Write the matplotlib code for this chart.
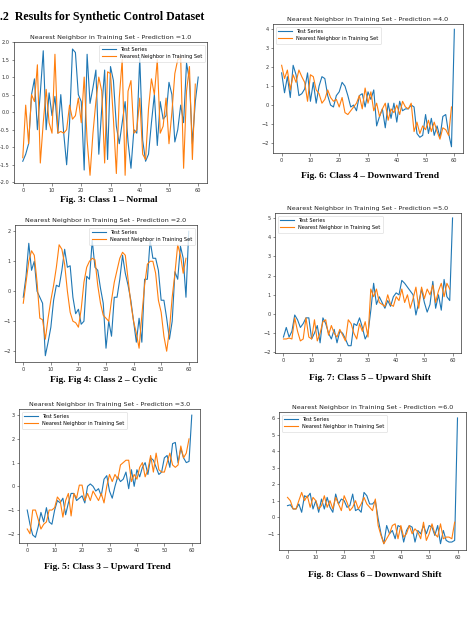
import matplotlib
matplotlib.use("Agg")
import matplotlib.pyplot as plt
import numpy as np

# test series (last value = class label) and nearest neighbour, one pair per class
test_c1 = [-1.4, -1.2, -0.9, 0.5, 0.95, -0.5, 0.55, 1.75, -0.5, 0.55, -0.1, 0.45, -0.6, 0.5, -0.6,
           -1.5, -0.3, 1.8, 1.7, 0.5, 0.3, -1.65, 1.65, 0.25, 0.7, 1.2, -1.2, 0.1, 1.2, -1.35,
           1.3, 0.9, -0.4, -0.9, -0.3, 0.3, -0.85, -1.6, -0.5, -0.6, 1.55, -0.8, -1.4, -1.2, -0.3,
           0.5, -0.95, 0.3, -0.2, -0.1, 0.85, 0.5, -0.85, -0.5, 0.2, -0.3, 1.4, 0.9, -0.9, 0.3, 1.0]
nn_c1 = [-1.3, 0.2, -0.9, 0.5, 0.3, 1.35, -1.45, -0.3, 0.65, -0.3, -0.6, 1.65, -0.6, -0.55, -0.6,
         -0.5, 0.2, -0.2, -0.1, 0.4, -0.3, 1.0, -0.8, -1.8, -0.6, 0.3, 1.0, 0.6, -1.45, 1.15,
         1.1, -0.2, -1.75, 0.4, 1.5, -1.8, 0.6, 0.9, -0.6, -0.5, 0.4, -1.2, -1.35, 0.1, 0.95,
         0.5, 1.5, -0.6, -0.4, 0.4, -0.9, 0.0, 1.1, 1.5, 1.55, -1.6, 0.6, 1.3, -1.35, 0.8]

test_c2 = [-0.2, 0.5, 1.6, 0.7, 1.0, 0.0, -0.2, -0.4, -2.15, -1.7, -1.2, -0.3, 0.2, 0.15, 0.7,
           1.4, 0.8, 0.85, -0.2, -0.75, -0.6, -1.1, -1.0, 0.5, 0.4, 1.7, 0.8, 0.7, 0.1, -0.4,
           -1.9, -1.0, -1.5, -0.2, -0.2, 0.4, 1.2, 0.6, 0.2, -0.3, -1.0, -1.7, -0.9, -1.7, 0.4,
           0.4, 1.7, 1.1, 1.1, 0.7, -0.3, -0.3, -0.9, -1.6, -1.0, 0.65, 0.4, 1.5, 1.1, -0.2, 2.0]
nn_c2 = [-0.4, 0.3, 1.0, 1.35, 1.2, 0.3, -0.9, -0.95, -1.6, -0.9, -0.3, 0.2, 0.8, 1.55, 1.4,
         0.9, 0.0, -0.7, -1.0, -1.05, -1.2, -0.6, 0.3, 0.8, 1.0, 1.1, 1.05, 0.2, -0.4, -0.8,
         -0.9, -1.0, -0.3, 0.3, 0.7, 1.1, 1.3, 1.2, 0.4, -0.4, -1.0, -1.4, -1.9, -0.8, 0.2,
         0.9, 1.0, 1.0, 0.6, -0.3, -0.7, -1.5, -2.0, -1.3, -0.2, 0.6, 1.55, 1.2, 0.6, 1.1]

test_c3 = [-1.0, -1.6, -2.05, -2.15, -1.7, -1.1, -1.5, -0.9, -1.5, -1.6, -1.0, -0.6, -0.7, -0.5, -1.2,
           -0.7, -0.3, -0.3, -0.6, -0.5, -0.4, -0.7, 0.0, 0.1, 0.0, -0.2, -0.1, -0.4, 0.3, 0.45,
           -0.2, -0.5, 0.0, 0.4, 0.2, 0.3, 0.6, -0.1, 0.7, 0.0, 0.7, 0.4, 0.8, 1.0, 0.5,
           1.2, 1.1, 0.8, 0.5, 0.6, 1.2, 1.3, 0.8, 1.8, 1.85, 1.0, 1.6, 1.2, 1.0, 1.05, 3.0]
nn_c3 = [-1.8, -2.0, -1.0, -1.0, -1.4, -1.8, -1.6, -1.5, -1.0, -1.0, -0.9, -0.45, -0.6, -1.3, -0.6,
         -0.3, -1.25, -0.3, -0.5, 0.05, 0.05, -0.6, -0.3, -0.6, -0.2, -0.4, -0.6, -0.3, -0.7, 0.0,
         0.5, 0.2, 0.5, 0.3, 0.9, 1.0, 1.1, 1.1, 0.2, 0.5, 0.3, 0.8, 1.0, 0.4, 0.7,
         1.3, 0.6, 1.4, 0.7, 0.6, 0.6, 1.0, 1.4, 0.9, 0.8, 0.9, 1.7, 1.2, 1.4, 2.0]

test_c4 = [1.7, 0.65, 1.5, 0.4, 2.1, 1.6, 0.5, 0.6, 0.85, 1.7, 0.2, 1.2, 0.1, 1.0, 1.5,
           1.4, 0.5, 0.0, -0.1, 0.5, 0.7, 1.2, 1.0, 0.5, -0.1, 0.0, -0.3, 0.5, 0.6, -0.1,
           0.7, 0.3, 0.8, -1.1, -0.6, -0.2, -1.2, 0.1, -0.7, 0.1, -0.9, 0.2, -0.3, -0.2, -0.2,
           0.0, -0.1, -1.5, -1.7, -1.6, -0.5, -1.5, -0.7, -1.6, -1.1, -1.7, -0.6, -0.5, -1.5, -2.2, 4.0]
nn_c4 = [2.1, 1.4, 1.85, 0.8, 1.6, 1.2, 1.85, 1.5, 1.2, 0.2, 1.6, 1.5, 0.8, 0.6, 0.1,
         0.3, 0.8, 0.4, 0.2, 0.3, -0.1, 0.4, -0.4, -0.5, -0.3, -0.1, 0.1, 0.5, -0.2, 0.9,
         0.1, 0.7, -0.3, 0.1, -0.6, -0.2, 0.1, -0.8, -0.2, -0.4, 0.0, -0.5, 0.2, -0.1, -0.2,
         0.1, -1.4, -0.9, -1.5, -1.1, -1.3, -0.8, -1.4, -0.9, -1.4, -1.8, -1.2, -1.3, -1.6, -0.1]

test_c5 = [-1.2, -0.7, -1.2, -0.9, -0.05, -0.3, -0.7, -0.5, -0.2, -0.2, -1.3, -1.0, -0.6, -1.5, -0.2,
           -0.5, -1.0, -1.3, -0.8, -1.5, -0.9, -1.0, -1.3, -1.65, -1.65, -0.5, -0.6, -0.2, -0.7, -1.3,
           -1.0, 0.2, 1.6, 0.5, 0.9, 0.6, 0.3, 0.7, 0.4, 0.9, 1.1, 1.0, 1.75, 1.6, 1.4,
           1.2, 1.0, -0.05, 0.6, 1.3, 0.6, 0.1, 0.5, 1.7, 0.3, 1.0, 0.2, 1.8, 0.9, 0.7, 5.0]
nn_c5 = [-1.3, -1.3, -1.25, -1.3, -0.2, -0.9, -1.4, -1.3, -0.2, -1.2, -1.3, -0.3, -1.4, -1.0, -0.4,
         -0.3, -1.1, -0.6, -1.0, -1.2, -0.8, -1.1, -1.4, -0.3, -0.5, -1.0, -1.3, -0.5, -0.9, -0.4,
         -1.2, 1.3, 0.9, 1.3, 0.6, 0.5, 0.4, 1.0, 0.5, 0.4, 0.9, 0.7, 1.3, 0.6, 1.0,
         0.3, 0.8, 1.4, 0.3, 1.4, 0.8, 1.3, 1.0, 1.5, 0.6, 1.2, 1.6, 0.9, 1.6, 1.3]

test_c6 = [0.7, 0.75, 0.5, 0.5, 0.8, 0.3, 1.3, 1.2, 1.45, 0.5, 1.0, 0.3, 1.1, 0.5, 1.2,
           0.6, 0.3, 1.4, 0.8, 1.1, 1.0, 0.6, 0.7, 1.4, 0.4, 0.5, 0.3, 1.5, 1.3, 0.8,
           0.8, 1.0, -0.1, -1.0, -1.6, -0.5, -1.0, -0.8, -1.3, -0.5, -0.6, -1.5, -0.8, -0.5, -0.6,
           -1.5, -0.8, -1.0, -0.5, -1.0, -0.5, -0.6, -1.1, -0.5, -1.6, -0.8, -1.4, -1.5, -1.5, -1.4, 6.0]
nn_c6 = [1.2, 1.0, 0.5, 0.5, 1.0, 1.5, 1.0, 1.3, 0.6, 1.2, 1.0, 0.5, 0.7, 1.3, 0.6,
         1.0, 0.5, 1.2, 0.8, 0.4, 1.3, 0.9, 0.4, 0.6, 1.0, 0.5, 0.8, 1.2, 0.8, 0.6,
         0.4, 1.1, -0.5, -1.1, -1.6, -1.3, -1.0, -0.5, -0.4, -1.3, -0.5, -1.2, -1.0, -0.5, -1.0,
         -0.7, -0.9, -1.3, -0.3, -1.4, -1.0, -0.4, -1.0, -1.2, -0.4, -1.3, -1.2, -1.2, -1.3, -0.3]

predictions = ["1.0", "2.0", "3.0", "4.0", "5.0", "6.0"]
captions = ["Fig. 3: Class 1 \u2013 Normal", "Fig. Fig 4: Class 2 \u2013 Cyclic",
            "Fig. 5: Class 3 \u2013 Upward Trend", "Fig. 6: Class 4 \u2013 Downward Trend",
            "Fig. 7: Class 5 \u2013 Upward Shift", "Fig. 8: Class 6 \u2013 Downward Shift"]
y_ticks = [[-2.0, -1.5, -1.0, -0.5, 0.0, 0.5, 1.0, 1.5, 2.0], [-2, -1, 0, 1, 2], [-2, -1, 0, 1, 2, 3],
           [-2, -1, 0, 1, 2, 3, 4], [-2, -1, 0, 1, 2, 3, 4, 5], [-1, 0, 1, 2, 3, 4, 5, 6]]
x_ticks = [0, 10, 20, 30, 40, 50, 60]

W, H = 476, 636
fig = plt.figure(figsize=(W / 100, H / 100), dpi=100)

# panel boxes in pixels: left, right, top, bottom, then ylim, legend loc, caption y
layout = [
    (14, 207, 42, 183, (-2.02, 2.0), "upper right", 200),
    (15, 197, 225, 362, (-2.36, 2.21), "upper right", 380),
    (19, 200, 409, 543, (-2.39, 3.26), "upper left", 567),
    (273, 463, 24, 153, (-2.53, 4.28), "upper left", 176),
    (275, 461, 213, 353, (-2.03, 5.26), "upper left", 378),
    (279, 466, 412, 550, (-1.98, 6.36), "upper left", 575),
]
tests = [test_c1, test_c2, test_c3, test_c4, test_c5, test_c6]
nns = [nn_c1, nn_c2, nn_c3, nn_c4, nn_c5, nn_c6]

for i, (l, r, t, b, ylim, loc, cy) in enumerate(layout):
    ax = fig.add_axes([l / W, 1 - b / H, (r - l) / W, (b - t) / H])
    ax.plot(np.arange(len(tests[i])), tests[i], color="#1f77b4", lw=0.8, label="Test Series")
    ax.plot(np.arange(len(nns[i])), nns[i], color="#ff7f0e", lw=0.8,
            label="Nearest Neighbor in Training Set")
    ax.set_xlim(-3, 63)
    ax.set_ylim(*ylim)
    ax.set_xticks(x_ticks)
    ax.set_yticks(y_ticks[i])
    if i == 0:
        ax.set_yticklabels([f"{v:.1f}" for v in y_ticks[i]])
    ax.tick_params(labelsize=3.6, length=1.8, width=0.4, pad=1.5, colors="#333333")
    for s in ax.spines.values():
        s.set_linewidth(0.5)
        s.set_color("#333333")
    ax.set_title("Nearest Neighbor in Training Set - Prediction =" + predictions[i],
                 fontsize=4.6, pad=2.5, color="#222222")
    ax.legend(loc=loc, fontsize=3.6, handlelength=2.8, borderpad=0.5, labelspacing=0.4,
              framealpha=0.8, edgecolor="#cccccc", fancybox=True).get_frame().set_linewidth(0.4)
    cx = (l + r) / 2 - (2 if i < 3 else -2)
    fig.text(cx / W, 1 - cy / H, captions[i], ha="center", va="center",
             family="Liberation Serif", weight="bold", fontsize=6.8)

fig.text(0.0, 1 - 17 / H, ".2  Results for Synthetic Control Dataset", ha="left", va="center",
         family="Liberation Serif", weight="bold", fontsize=8.6)

fig.savefig("out.png", dpi=100)
